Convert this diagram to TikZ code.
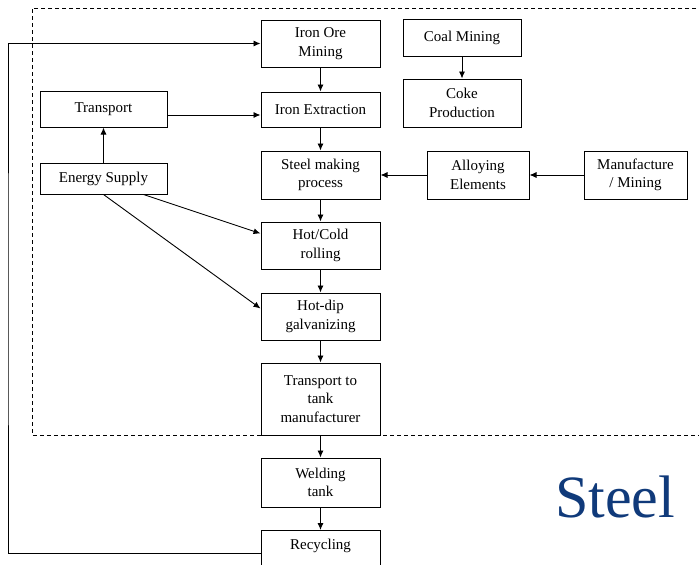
\documentclass[tikz,border=0pt]{standalone}
\usepackage{fontspec}
\setmainfont{Liberation Serif}
\usetikzlibrary{arrows.meta}
\definecolor{steelblue}{RGB}{16,58,122}
\tikzset{
  box/.style={draw, line width=1pt, align=center, inner sep=0pt,
    font=\fontsize{15}{18.5}\selectfont},
  arr/.style={draw, line width=0.9pt, -{Latex[length=7pt,width=6pt]}},
  dashbox/.style={draw, line width=0.9pt, dash pattern=on 4pt off 3pt}
}
\begin{document}
\begin{tikzpicture}[x=1pt,y=-1pt]
\useasboundingbox (0,0) rectangle (699,565);
\clip (0,0) rectangle (699,565);
% dashed frame
\draw[dashbox] (710,8) -- (32,8) -- (32,435) -- (710,435);
% main column
\node[box, minimum width=119pt, minimum height=47pt] (ore) at (320.5,43.5) {Iron Ore\\Mining};
\node[box, minimum width=119pt, minimum height=35pt] (ext) at (320.5,109.5) {Iron Extraction};
\node[box, minimum width=119pt, minimum height=48pt] (smp) at (320.5,175) {Steel making\\process};
\node[box, minimum width=119pt, minimum height=47pt] (roll) at (320.5,245.5) {Hot/Cold\\rolling};
\node[box, minimum width=119pt, minimum height=47pt] (galv) at (320.5,316.5) {Hot-dip\\galvanizing};
\node[box, minimum width=119pt, minimum height=72pt] (ttank) at (320.5,399) {Transport to\\tank\\manufacturer};
\node[box, minimum width=119pt, minimum height=49pt] (weld) at (320.5,482.5) {Welding\\tank};
\node[box, minimum width=119pt, anchor=north, text height=19pt, text depth=31pt] (recyc) at (320.5,530) {Recycling};
% left column
\node[box, minimum width=127pt, minimum height=36pt] (transport) at (103.5,109) {Transport};
\node[box, minimum width=127pt, minimum height=31pt] (energy) at (103.5,178.5) {Energy Supply};
% right part
\node[box, minimum width=118pt, minimum height=37pt] (coal) at (462,37.5) {Coal Mining};
\node[box, minimum width=118pt, minimum height=48pt] (coke) at (462,103) {Coke\\Production};
\node[box, minimum width=102pt, minimum height=48pt] (alloy) at (478,175) {Alloying\\Elements};
\node[box, minimum width=103pt, minimum height=48pt] (manuf) at (635.5,175) {Manufacture\\/ Mining};
% Steel label
\node[text=steelblue, font=\fontsize{60}{60}\selectfont, inner sep=0pt] (steel) at (615,497) {Steel};
% connectors
\draw[arr] (ore) -- (ext);
\draw[arr] (ext) -- (smp);
\draw[arr] (smp) -- (roll);
\draw[arr] (roll) -- (galv);
\draw[arr] (galv) -- (ttank);
\draw[arr] (ttank) -- (weld);
\draw[arr] (weld) -- (recyc);
\draw[arr] (coal) -- (coke);
\draw[arr] (alloy) -- (smp);
\draw[arr] (manuf) -- (alloy);
\draw[arr] (energy) -- (transport);
\draw[arr] ([yshift=-6pt]transport.east) coordinate (t1) -- (t1 -| ext.west);
\draw[arr] ([xshift=40pt]energy.south) -- ([yshift=12pt]roll.west);
\draw[arr] (energy.south) -- ([yshift=8pt]galv.west);
\coordinate (loop) at (8,300);
\draw[arr] ([yshift=-23pt]recyc.north west) -| (loop) |- (ore.west);
\end{tikzpicture}
\end{document}
